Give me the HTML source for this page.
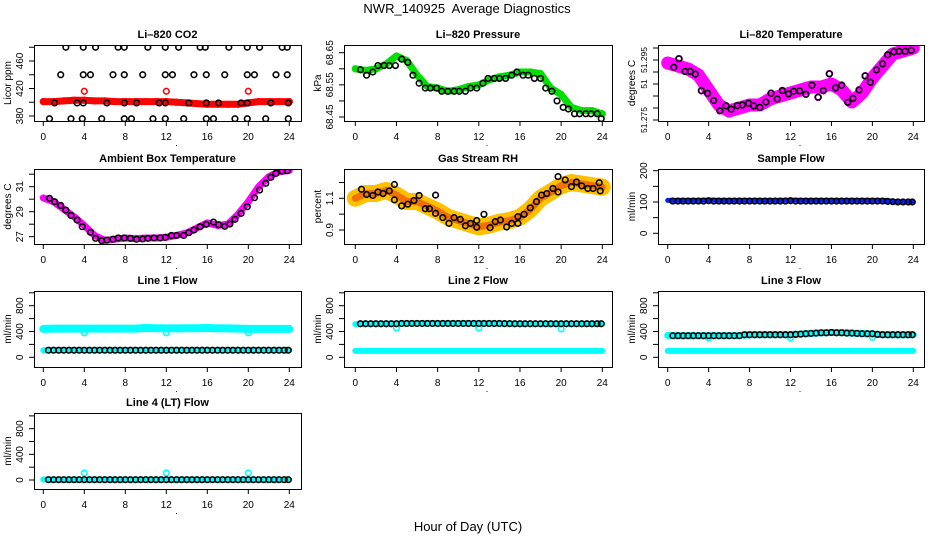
<!DOCTYPE html>
<html><head><meta charset="utf-8"><title>NWR_140925 Average Diagnostics</title>
<style>
html,body{margin:0;padding:0;background:#fff;}
svg{display:block;font-family:"Liberation Sans",sans-serif;}
</style></head>
<body>
<svg id="chart" width="936" height="540" viewBox="0 0 936 540" xmlns="http://www.w3.org/2000/svg">
<rect x="0" y="0" width="936" height="540" fill="#fff"/>
<text x="467" y="13" font-size="13" text-anchor="middle" xml:space="preserve">NWR_140925  Average Diagnostics</text>
<text x="468" y="531" font-size="13" text-anchor="middle">Hour of Day (UTC)</text>
</svg>
<script>
// ---------- data ----------
const xTicks=[0,4,8,12,16,20,24];
const hourly=[0,1,2,3,4,5,6,7,8,9,10,11,12,13,14,15,16,17,18,19,20,21,22,23,24];
const flowHours=[0.5,1,1.5,2,2.5,3,3.5,4,4.5,5,5.5,6,6.5,7,7.5,8,8.5,9,9.5,10,10.5,11,11.5,12,12.5,13,13.5,14,14.5,15,15.5,16,16.5,17,17.5,18,18.5,19,19.5,20,20.5,21,21.5,22,22.5,23,23.5,23.9];
const outlierHours=[4,12,20];

// CO2
const co2Hours=[2.2,3.9,5.1,7.3,7.9,10.2,11.9,13.2,15.3,15.8,18.1,19.9,21.1,23.3,23.8,
 1.7,3.9,4.6,6.8,7.9,9.7,11.9,12.6,14.7,15.9,17.7,19.9,20.6,22.7,23.8,
 1.1,3.3,3.9,6.2,7.9,9.1,11.3,11.9,14.2,15.9,17.1,19.3,19.9,22.2,23.9,
 0.6,2.7,3.8,5.7,7.9,8.6,10.7,11.9,13.7,15.9,16.6,18.7,19.9,21.7,23.9];
const co2Vals=[480,480,480,480,480,480,480,480,480,480,480,480,480,480,480,
 440,440,440,440,440,440,440,440,440,440,440,440,440,440,440,
 399,399,399,399,399,399,399,399,399,399,399,399,399,399,399,
 376,376,376,376,376,376,376,376,376,376,376,376,376,376,376];
const co2Band=[401,401,402,403,403,402,402,401,401,401,401,401,401,400,399,398,397,397,397,397,399,401,401,401,401];
const co2Outliers=[416,416,416];

// Pressure
const presHours=[0.5,1.1,1.7,2.2,2.8,3.3,3.9,4.5,5.1,5.6,6.2,6.8,7.3,7.9,8.4,9,9.6,10.1,10.7,11.2,11.8,12.4,12.9,13.5,14,14.6,15.2,15.7,16.3,16.8,17.4,18,18.5,19.1,19.6,20.2,20.7,21.3,21.8,22.4,22.9,23.5,23.9];
const presVals=[68.597,68.58,68.59,68.61,68.61,68.61,68.61,68.63,68.62,68.58,68.555,68.54,68.54,68.54,68.53,68.53,68.53,68.53,68.53,68.54,68.54,68.555,68.57,68.57,68.57,68.57,68.58,68.59,68.58,68.58,68.57,68.57,68.54,68.53,68.5,68.48,68.475,68.46,68.46,68.46,68.46,68.46,68.445];
const presBand=[68.60,68.595,68.60,68.615,68.64,68.625,68.58,68.545,68.54,68.53,68.535,68.545,68.55,68.565,68.575,68.58,68.59,68.59,68.585,68.54,68.52,68.48,68.47,68.47,68.46];

// Li-820 temperature
const tempHours=[0.6,1.1,1.7,2.2,2.7,3.3,3.9,4.5,5.1,5.7,6.2,6.8,7.3,7.9,8.4,9,9.6,10.1,10.7,11.2,11.8,12.3,12.9,13.5,14.1,14.7,15.2,15.8,16.4,17,17.6,18.1,18.7,19.3,19.8,20.4,21,21.5,22.1,22.6,23.2,23.8];
const tempVals=[51.2926,51.2954,51.2912,51.2912,51.2903,51.2848,51.2839,51.2815,51.2781,51.2797,51.2786,51.2798,51.28,51.2806,51.2797,51.2792,51.281,51.2839,51.282,51.2848,51.2837,51.2846,51.2847,51.2836,51.2866,51.2826,51.2848,51.2904,51.2857,51.2866,51.2809,51.2822,51.285,51.2897,51.2876,51.2917,51.2937,51.2967,51.2977,51.2979,51.2979,51.2982];
const tempBand=[51.294,51.293,51.292,51.29,51.285,51.28,51.278,51.279,51.28,51.28,51.282,51.283,51.284,51.285,51.286,51.286,51.287,51.285,51.281,51.284,51.289,51.293,51.297,51.298,51.299];

// Ambient box temperature
const ambHours=[0.6,1.1,1.7,2.2,2.7,3.3,3.8,4.6,5.1,5.7,6.2,6.8,7.3,7.9,8.5,9.1,9.7,10.2,10.8,11.4,11.9,12.5,13,13.7,14.2,14.7,15.3,15.9,16.6,17.1,17.7,18.2,18.7,19.3,19.9,20.6,21.1,21.7,22.2,22.7,23.3,23.8];
const ambVals=[30.07,29.8,29.5,29.13,28.7,28.33,27.8,27.35,26.87,26.68,26.73,26.8,26.9,26.9,26.87,26.8,26.82,26.87,26.9,26.9,26.95,27.1,27.1,27.1,27.32,27.53,27.8,27.99,28.17,27.96,27.83,28.01,28.39,28.87,29.4,30.12,30.73,31.27,31.75,32.07,32.25,32.28];
const ambBand=[30.1,29.8,29.2,28.6,27.9,27.1,26.7,26.8,26.9,26.85,26.9,26.9,26.95,27.1,27.3,27.7,28.1,27.9,28.0,28.8,29.8,31.0,31.8,32.2,32.3];

// Gas stream RH
const rhHours=[0.6,1.1,1.7,2.2,2.7,3.3,3.8,3.8,4.5,5.1,5.7,6.2,6.8,7.2,7.8,7.8,8.5,9.1,9.6,10.2,10.7,11.2,11.8,11.8,12.5,13.1,13.6,14.1,14.7,15.2,15.8,15.8,16.4,17,17.6,18.1,18.6,19.2,19.7,19.7,20.4,21,21.5,22,22.6,23.1,23.7,23.8];
const rhVals=[1.157,1.124,1.118,1.14,1.13,1.147,1.187,1.09,1.052,1.063,1.086,1.118,1.034,1.034,1.12,1.005,0.978,0.942,0.978,0.967,0.927,0.942,0.917,0.96,0.999,0.915,0.953,0.963,0.919,0.942,0.942,0.984,0.999,1.04,1.079,1.12,1.13,1.162,1.237,1.14,1.216,1.174,1.203,1.178,1.162,1.162,1.198,1.147];
const rhBand=[1.1,1.13,1.13,1.15,1.12,1.08,1.08,1.05,1.02,0.98,0.96,0.94,0.92,0.93,0.95,0.96,0.98,1.03,1.1,1.14,1.18,1.2,1.19,1.18,1.17];

// Sample flow
const sampleVals=[103,103,103,103,103,103,103,104,103,103,103,103,103,103,103,103,103,103,103,103,103,103,103,104,103,103,103,103,103,103,103,103,103,103,103,103,103,103,103,103,103,103,102,101,100,100,100,100];
const sampleBand=[105,105,105,105,106,105,105,105,105,105,105,105,106,105,105,105,105,105,105,105,105,105,102,100,101];

// Line flows
const line1Vals=[110,110,110,110,110,110,110,110,110,110,110,110,110,110,110,110,110,110,110,110,110,110,110,110,110,110,110,110,110,110,110,110,110,110,110,110,110,110,110,110,110,110,110,110,110,110,110,110];
const line1Upper=[440,445,445,445,445,445,445,445,445,445,455,450,448,448,450,450,455,448,448,445,440,440,440,440,440];
const line1Lower=[108,108,108,108,108,108,108,108,108,108,108,108,108,108,108,108,108,108,108,108,108,108,108,108,108];
const line1Outliers=[380,380,380];

const line2Vals=[520,520,520,520,520,520,520,520,525,525,525,525,525,525,525,525,525,525,525,525,525,525,525,525,525,525,525,525,522,522,520,520,520,520,520,520,520,520,520,520,520,520,520,520,520,520,520,520];
const line2Upper=[515,518,520,520,522,522,525,525,525,525,525,525,525,522,522,520,518,518,518,518,518,518,518,518,518];
const line2Lower=[100,100,100,100,100,100,100,100,100,100,100,100,100,100,100,100,100,100,100,100,100,100,100,100,100];
const line2Outliers=[455,455,440];

const line3Vals=[335,335,335,335,335,335,335,335,335,335,335,335,335,335,350,350,350,350,350,350,350,350,350,350,355,360,365,370,375,380,380,385,380,380,375,375,370,365,365,365,355,350,350,350,350,350,350,350];
const line3Upper=[340,335,335,335,335,335,335,340,350,352,352,352,352,360,370,380,385,385,375,370,360,352,350,350,350];
const line3Lower=[100,100,100,100,100,100,100,100,100,100,100,100,100,100,100,100,100,100,100,100,100,100,100,100,100];
const line3Outliers=[300,300,310];

const line4Vals=[5,5,5,5,5,5,5,5,5,5,5,5,5,5,5,5,5,5,5,5,5,5,5,5,5,5,5,5,5,5,5,5,5,5,5,5,5,5,5,5,5,5,5,5,5,5,5,5];
const line4Band=[8,5,5,5,5,5,5,5,5,5,5,5,5,5,5,5,5,5,5,5,5,5,5,5,5];
const line4Outliers=[110,110,110];

// ---------- drawing ----------
const NS='http://www.w3.org/2000/svg';
const svg=document.getElementById('chart');
function mk(tag,attrs,parent){const e=document.createElementNS(NS,tag);for(const k in attrs)e.setAttribute(k,attrs[k]);(parent||svg).appendChild(e);return e;}
const cols=[[34,301,43.3,289.3],[344,612,355.3,602.3],[658,924,667.7,913.3]];
const rows=[[45,121],[169,244],[291,367],[413,489]];

function makePanel(name,col,row,title,ylab,v0,p0,v1,p1,ticks,labels,labelTexts,labelSize){
  const [x0,x1,d0,d24]=cols[col];const [y0,y1]=rows[row];
  const g=mk('g',{});
  
  
  const sx=h=>d0+(d24-d0)*h/24;
  const sy=v=>p0+(v-v0)*(p1-p0)/(v1-v0);
  const clipId='clip-'+name;
  const cp=mk('clipPath',{id:clipId},g);
  mk('rect',{x:x0,y:y0,width:x1-x0,height:y1-y0},cp);
  const plot=mk('g',{'clip-path':'url(#'+clipId+')'},g);
  
  
  const fr=mk('rect',{x:x0+0.5,y:y0+0.5,width:x1-x0,height:y1-y0,fill:'none',stroke:'#000','stroke-width':1},g);
  
  
  const t=mk('text',{x:(x0+x1)/2,y:y0-7,'font-size':11,'font-weight':'bold','text-anchor':'middle'},g);
  t.textContent=title;
  
  
  xTicks.forEach(h=>{
    const tl=mk('line',{x1:sx(h),x2:sx(h),y1:y1,y2:y1+5,stroke:'#000'},g);
    
    
    const tx=mk('text',{x:sx(h),y:y1+19,'font-size':10,'text-anchor':'middle'},g);
    tx.textContent=String(h);
    
    
  });
  const dot=mk('text',{x:(x0+x1)/2+9,y:y1+25,'font-size':9,'text-anchor':'middle'},g);
  dot.textContent='.';
  
  
  ticks.forEach(v=>{
    const tl=mk('line',{x1:x0-5,x2:x0,y1:sy(v),y2:sy(v),stroke:'#000'},g);
    
    
  });
  labels.forEach((v,i)=>{
    const y=sy(v);const x=x0-11;
    const tx=mk('text',{x:x,y:y,'font-size':labelSize||10,'text-anchor':'middle',transform:'rotate(-90 '+x+' '+y+')'},g);
    tx.textContent=labelTexts[i];
    
    
  });
  const yc=(y0+y1)/2, xl=x0-23;
  const yl=mk('text',{x:xl,y:yc,'font-size':10,'text-anchor':'middle',transform:'rotate(-90 '+xl+' '+yc+')'},g);
  yl.textContent=ylab;
  
  
  return {plot,sx,sy};
}
function band(p,hours,vals,color,width,name){
  const pts=hours.map((h,i)=>p.sx(h).toFixed(1)+','+p.sy(vals[i]).toFixed(1)).join(' ');
  const pl=mk('polyline',{points:pts,fill:'none',stroke:color,'stroke-width':width,'stroke-linejoin':'round','stroke-linecap':'round'},p.plot);
  
  
}
function points(p,hours,vals,color,name,r,sw){
  hours.forEach((h,i)=>{
    const c=mk('circle',{cx:p.sx(h),cy:p.sy(vals[i]),r:r||2.8,fill:'none',stroke:color,'stroke-width':sw||1.6},p.plot);
    
    
  });
}

// CO2
let p=makePanel('co2',0,0,'Li–820 CO2','Licor ppm',380,116,460,61,[380,400,420,440,460,480],[380,420,460],['380','420','460']);
band(p,hourly,co2Band,'#f00',7,'co2-band');
points(p,hourly,co2Band,'#f00','co2-point');
points(p,outlierHours,co2Outliers,'#f00','co2-outlier');
points(p,co2Hours,co2Vals,'#000','co2-average-point');

// Pressure
p=makePanel('pressure',1,0,'Li–820 Pressure','kPa',68.45,117,68.65,52.7,[68.45,68.5,68.55,68.6,68.65],[68.45,68.55,68.65],['68.45','68.55','68.65']);
band(p,hourly,presBand,'#00e000',7,'pressure-band');
points(p,hourly,presBand,'#00e000','pressure-point');
points(p,presHours,presVals,'#000','pressure-average-point');

// Temperature
p=makePanel('li820-temp',2,0,'Li–820 Temperature','degrees C',51.275,120,51.295,60,[51.275,51.279,51.283,51.287,51.291,51.295,51.299],[51.275,51.287,51.295],['51.275','51','51.295'],8.5);
band(p,hourly,tempBand,'#f0f',13,'li820-temp-band');
points(p,tempHours,tempVals,'#f0f','li820-temp-point',3,1.8);
points(p,tempHours,tempVals,'#000','li820-temp-average-point');

// Ambient
p=makePanel('ambient',0,1,'Ambient Box Temperature','degrees C',27,236.7,31,186.7,[27,28,29,30,31,32],[27,29,31],['27','29','31']);
band(p,hourly,ambBand,'#f0f',7,'ambient-band');
points(p,ambHours,ambVals,'#000','ambient-average-point');

// RH
p=makePanel('rh',1,1,'Gas Stream RH','percent',0.9,230,1.1,198.3,[0.9,1.0,1.1,1.2],[0.9,1.1],['0.9','1.1']);
band(p,hourly,rhBand,'#ffc000',17,'rh-band');
band(p,hourly,rhBand,'#f07000',7,'rh-band-core');
points(p,rhHours,rhVals,'#000','rh-average-point');

// Sample flow
p=makePanel('sample-flow',2,1,'Sample Flow','ml/min',0,233.3,200,170.7,[0,50,100,150,200],[0,100,200],['0','100','200']);
band(p,hourly,sampleBand,'#0020ff',5,'sample-flow-band');
points(p,flowHours,sampleVals,'#000','sample-flow-average-point');

const flowTicks=[0,200,400,600,800,1000],flowLab=[0,400,800],flowTxt=['0','400','800'];
// Line 1
p=makePanel('line1-flow',0,2,'Line 1 Flow','ml/min',0,357.3,800,305.7,flowTicks,flowLab,flowTxt);
band(p,hourly,line1Upper,'#0ff',8,'line1-flow-upper-band');
band(p,hourly,line1Lower,'#0ff',6,'line1-flow-lower-band');
points(p,outlierHours,line1Outliers,'#0ff','line1-flow-outlier');
points(p,flowHours,line1Vals,'#000','line1-flow-average-point');
// Line 2
p=makePanel('line2-flow',1,2,'Line 2 Flow','ml/min',0,357.3,800,305.7,flowTicks,flowLab,flowTxt);
band(p,hourly,line2Upper,'#0ff',6,'line2-flow-upper-band');
band(p,hourly,line2Lower,'#0ff',6,'line2-flow-lower-band');
points(p,outlierHours,line2Outliers,'#0ff','line2-flow-outlier');
points(p,flowHours,line2Vals,'#000','line2-flow-average-point');
// Line 3
p=makePanel('line3-flow',2,2,'Line 3 Flow','ml/min',0,357.3,800,305.7,flowTicks,flowLab,flowTxt);
band(p,hourly,line3Upper,'#0ff',7,'line3-flow-upper-band');
band(p,hourly,line3Lower,'#0ff',6,'line3-flow-lower-band');
points(p,outlierHours,line3Outliers,'#0ff','line3-flow-outlier');
points(p,flowHours,line3Vals,'#000','line3-flow-average-point');
// Line 4
p=makePanel('line4-flow',0,3,'Line 4 (LT) Flow','ml/min',0,480,800,428.7,flowTicks,flowLab,flowTxt);
band(p,hourly,line4Band,'#0ff',6,'line4-flow-band');
points(p,outlierHours,line4Outliers,'#0ff','line4-flow-outlier');
points(p,flowHours,line4Vals,'#000','line4-flow-average-point');
</script>
</body></html>
